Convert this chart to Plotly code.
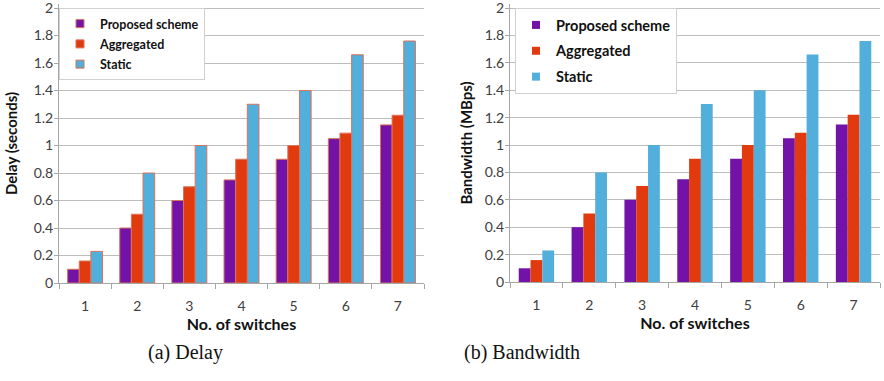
import plotly.graph_objects as go

# Number of switches on the x axis
switches = ["1", "2", "3", "4", "5", "6", "7"]

# Delay (seconds)
delay_proposed = [0.10, 0.40, 0.60, 0.75, 0.90, 1.05, 1.15]
delay_aggregated = [0.16, 0.50, 0.70, 0.90, 1.00, 1.09, 1.22]
delay_static = [0.23, 0.80, 1.00, 1.30, 1.40, 1.66, 1.76]

# Bandwidth (MBps)
bw_proposed = [0.10, 0.40, 0.60, 0.75, 0.90, 1.05, 1.15]
bw_aggregated = [0.16, 0.50, 0.70, 0.90, 1.00, 1.09, 1.22]
bw_static = [0.23, 0.80, 1.00, 1.30, 1.40, 1.66, 1.76]

series_names = ["Proposed scheme", "Aggregated", "Static"]
y_ticks = [0, 0.2, 0.4, 0.6, 0.8, 1, 1.2, 1.4, 1.6, 1.8, 2]
y_tick_text = ["0", "0.2", "0.4", "0.6", "0.8", "1", "1.2", "1.4", "1.6", "1.8", "2"]

colors = ["#7212A6", "#E03A0E", "#52AEDA"]
FONT = "Lato"

fig = go.Figure()

panels = [
    ("x", "y", "legend", "d", [delay_proposed, delay_aggregated, delay_static], "#D9735A", 1),
    ("x2", "y2", "legend2", "b", [bw_proposed, bw_aggregated, bw_static], None, 0),
]

for xa, ya, leg, tag, series, edge, edge_w in panels:
    for i, (name, vals) in enumerate(zip(series_names, series)):
        line = dict(color=edge, width=edge_w) if edge else dict(width=0)
        fig.add_trace(go.Bar(
            x=switches, y=vals, name=name, xaxis=xa, yaxis=ya,
            marker=dict(color=colors[i], line=line),
            showlegend=False, legendgroup=tag + str(i),
        ))
        # small square key for the legend
        fig.add_trace(go.Scatter(
            x=[None], y=[None], mode="markers", name="<b>%s</b>" % name,
            xaxis=xa, yaxis=ya,
            marker=dict(symbol="square", size=8, color=colors[i],
                        line=dict(color=edge, width=1) if edge else dict(width=0)),
            legend=leg, legendgroup=tag + str(i), showlegend=True,
        ))

Y_TOP = 2.03  # a little headroom so the 2.0 gridline and label are drawn
AXIS_GREY = "#A6A6A6"


def xaxis(domain, anchor):
    return dict(
        domain=domain, anchor=anchor, type="category", automargin=False,
        showline=True, linecolor=AXIS_GREY, linewidth=1,
        ticks="outside", tickson="boundaries", ticklen=5, tickcolor=AXIS_GREY,
        ticklabelstandoff=10,
        tickfont=dict(family=FONT, size=14, color="#404040"),
        title=dict(text="<b>No. of switches</b>", font=dict(family=FONT, size=16, color="#111"), standoff=6),
        showgrid=False,
    )


def yaxis(domain, anchor, title, standoff):
    return dict(
        domain=domain, anchor=anchor, range=[0, Y_TOP], automargin=False,
        tickvals=y_ticks, ticktext=y_tick_text, ticklabeloverflow="allow",
        showgrid=True, gridcolor="#BDBDBD", gridwidth=1,
        zeroline=False, showline=True, linecolor=AXIS_GREY, linewidth=1,
        ticks="outside", ticklen=4, tickcolor=AXIS_GREY, ticklabelstandoff=-2,
        tickfont=dict(family=FONT, size=14, color="#404040"),
        title=dict(text="<b>%s</b>" % title, font=dict(family=FONT, size=15, color="#111"), standoff=standoff),
    )


def y_domain(px_zero, px_two):
    # convert pixel rows of y=0 and y=2 into a paper domain for range [0, Y_TOP]
    per_unit = (px_zero - px_two) / 2.0
    px_top = px_zero - per_unit * Y_TOP
    return [1 - px_zero / 381, 1 - px_top / 381]


legend_common = dict(
    bgcolor="white", bordercolor="#D0D0D0", borderwidth=1,
    xanchor="left", yanchor="top", itemwidth=30,
)

fig.update_layout(
    width=884, height=381,
    margin=dict(l=0, r=0, t=0, b=0),
    paper_bgcolor="white", plot_bgcolor="white",
    barmode="group", bargap=0.33, bargroupgap=0,
    showlegend=True,
    xaxis=xaxis([59 / 884, 424 / 884], "y"),
    yaxis=yaxis(y_domain(283, 8), "x", "Delay (seconds)", 12),
    xaxis2=xaxis([510 / 884, 880 / 884], "y2"),
    yaxis2=yaxis(y_domain(282, 8), "x2", "Bandwidth (MBps)", 8),
    legend=dict(x=59 / 884, y=1 - 8 / 381, font=dict(family=FONT, size=12.5, color="#111"),
                tracegroupgap=1, **legend_common),
    legend2=dict(x=515 / 884, y=1 - 8 / 381, font=dict(family=FONT, size=14.5, color="#111"),
                 tracegroupgap=4, **legend_common),
    annotations=[
        dict(text="(a) Delay", x=185 / 884, y=1 - 352 / 381, xref="paper", yref="paper",
             xanchor="center", yanchor="middle",
             showarrow=False, font=dict(family="Liberation Serif", size=20, color="#111")),
        dict(text="(b) Bandwidth", x=522 / 884, y=1 - 352 / 381, xref="paper", yref="paper",
             xanchor="center", yanchor="middle",
             showarrow=False, font=dict(family="Liberation Serif", size=20, color="#111")),
    ],
)

fig.write_html("out.html")
